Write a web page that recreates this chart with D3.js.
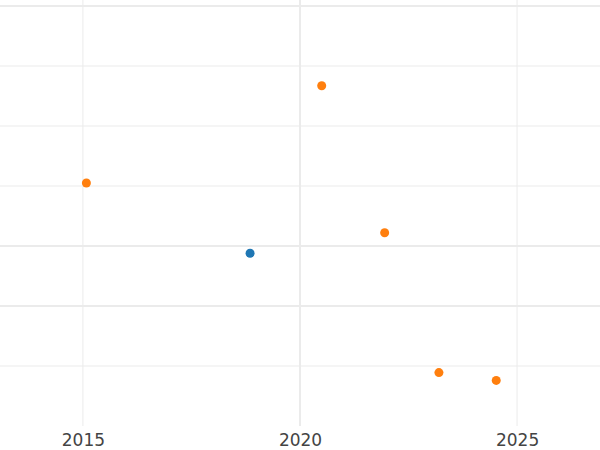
<!DOCTYPE html>
<html><head><meta charset="utf-8">
<script src="https://cdn.jsdelivr.net/npm/d3@7"></script>
<style>body{margin:0;background:#fff}</style>
</head><body>
<div id="chart"></div>
<script>
const blueX = [2018.85]
const blueY = [2.88]
const orangeX = [2015.08, 2020.5, 2021.95, 2023.2, 2024.52]
const orangeY = [4.05, 5.67, 3.22, 0.89, 0.76]
const xTicks = [2015, 2020, 2025]
const yTicks = [1, 2, 3, 4, 5, 6, 7]
const thickY = [7, 3, 2]
const thickX = [2020]

const w = 600, h = 450
const x = d3.scaleLinear().domain([2013.09, 2026.91]).range([0, w])
const y = d3.scaleLinear().domain([0, 7]).range([426, 6])

const svg = d3.select('#chart').append('svg').attr('width', w).attr('height', h)

// grid
svg.append('g').selectAll('line').data(yTicks).enter().append('line')
    .attr('x1', 0).attr('x2', w)
    .attr('y1', d => y(d)).attr('y2', d => y(d))
    .attr('stroke', '#ebebeb')
    .attr('stroke-width', d => thickY.includes(d) ? 2 : 1)
svg.append('g').selectAll('line').data(xTicks).enter().append('line')
    .attr('x1', d => x(d)).attr('x2', d => x(d))
    .attr('y1', 0).attr('y2', 426)
    .attr('stroke', '#ebebeb')
    .attr('stroke-width', d => thickX.includes(d) ? 2 : 1)

// x axis labels
svg.append('g').attr('transform', 'translate(0,426)')
    .call(d3.axisBottom(x).tickValues(xTicks).tickFormat(d3.format('d')).tickSize(0).tickPadding(8))
    .call(g => g.select('.domain').remove())
    .selectAll('text')
    .attr('font-family', 'DejaVu Sans').attr('font-size', 17).attr('fill', '#444')

const addPoints = (xs, ys, color) => svg.append('g').selectAll('circle')
    .data(xs.map((d, i) => [d, ys[i]])).enter().append('circle')
    .attr('cx', d => x(d[0])).attr('cy', d => y(d[1])).attr('r', 4.5)
    .attr('fill', color)

addPoints(blueX, blueY, '#1f77b4')
addPoints(orangeX, orangeY, '#ff7f0e')
</script>
</body></html>
